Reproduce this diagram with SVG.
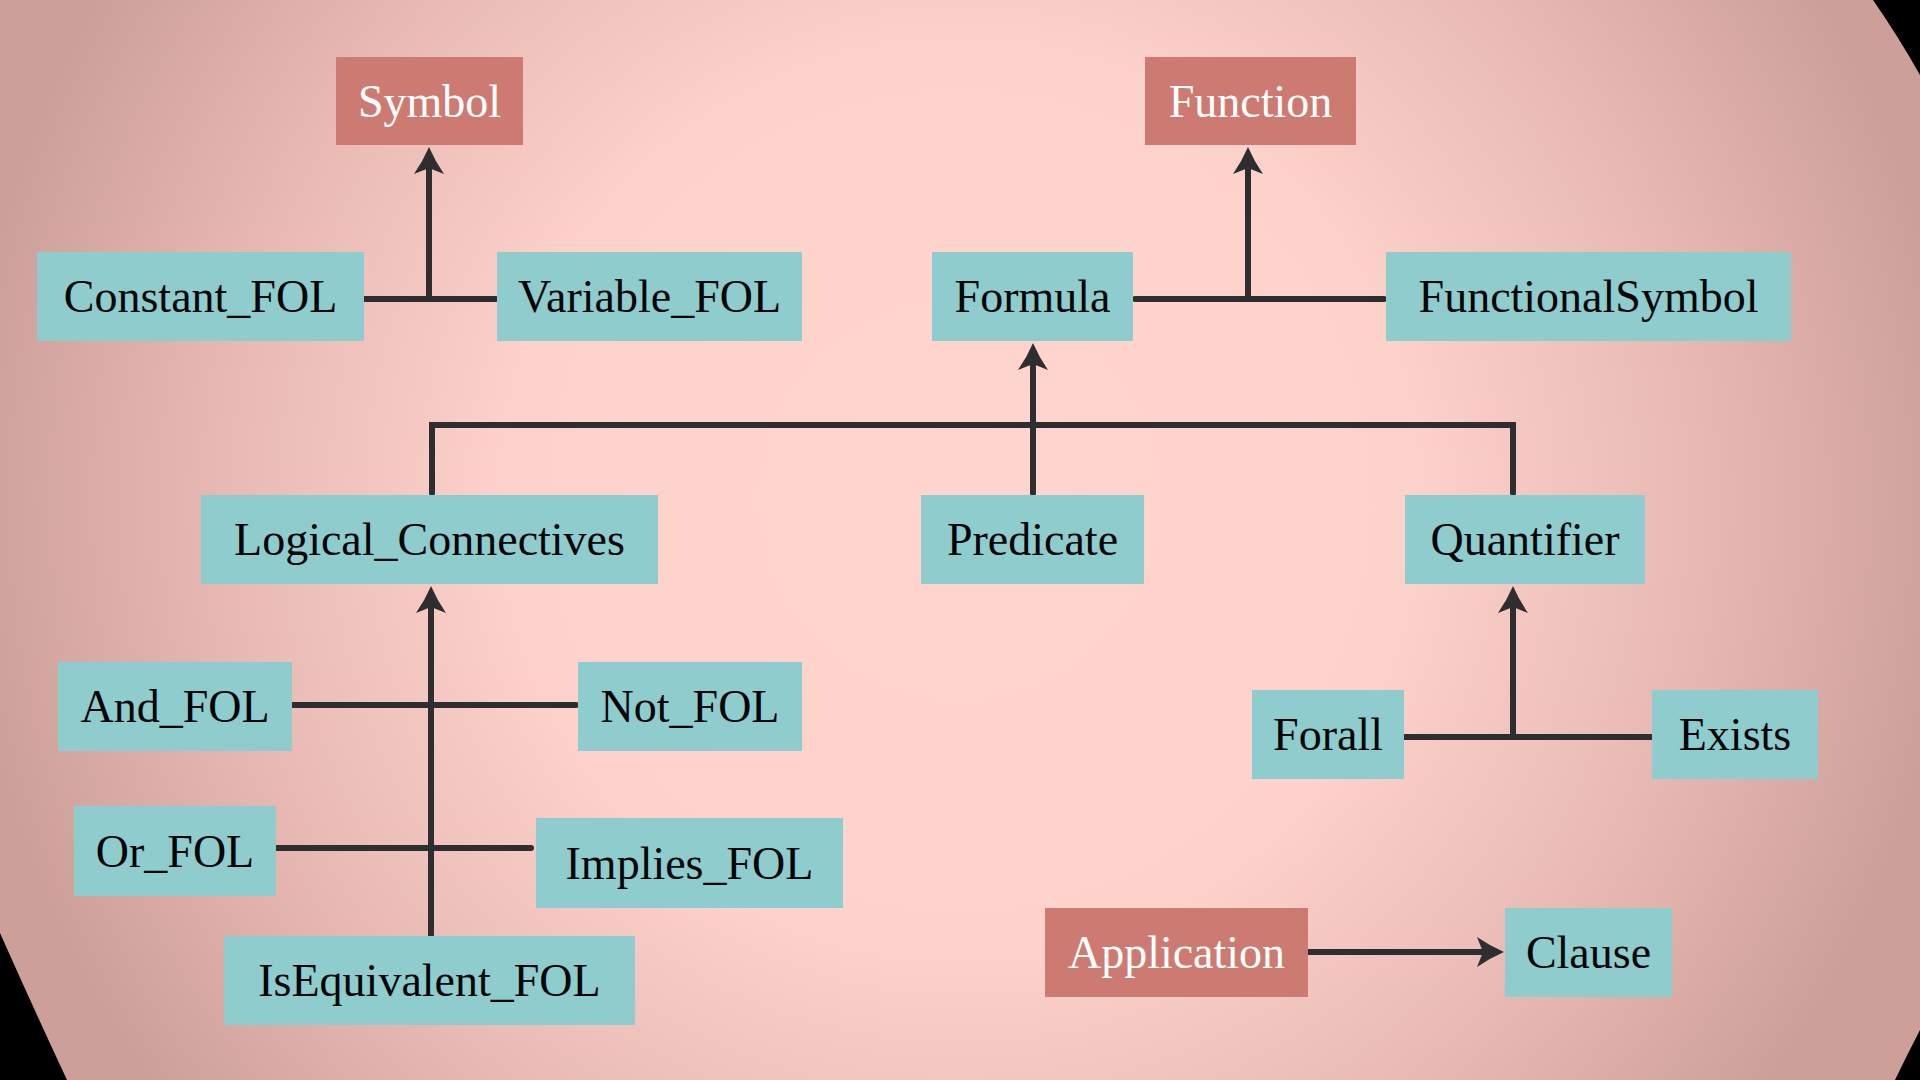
<svg xmlns="http://www.w3.org/2000/svg" width="1920" height="1080" viewBox="0 0 1920 1080">
<style>
.n rect{fill:#8ECCCE}
.r rect{fill:#CD7B72}
text{font-family:"Liberation Serif","DejaVu Serif",serif;font-size:46px;text-anchor:middle;fill:#050505}
.r text{fill:#FFFFFF}
.c path{fill:none;stroke:#2E2E30;stroke-width:6;stroke-linecap:round;stroke-linejoin:miter}
</style>
<defs>
<radialGradient id="bg" gradientUnits="userSpaceOnUse" cx="960" cy="500" r="1000">
<stop offset="0" stop-color="#FFD5CE"/>
<stop offset="0.45" stop-color="#FDD2CB"/>
<stop offset="0.75" stop-color="#E6B8B1"/>
<stop offset="1" stop-color="#CC9F98"/>
</radialGradient>
<marker id="ah" markerUnits="userSpaceOnUse" markerWidth="34" markerHeight="34" refX="5" refY="0" orient="auto" overflow="visible">
<path d="M27,0 Q13,-6 0,-15 L6,0 L0,15 Q13,6 27,0 Z" fill="#2E2E30" stroke="none"/>
</marker>
</defs>
<rect x="0" y="0" width="1920" height="1080" fill="#000"/>
<path d="M0,0 L1873,0 Q1898,36 1920,75 L1920,1030 Q1907,1055 1895,1080 L67,1080 Q32,1005 0,933 Z" fill="url(#bg)"/>

<g id="connectors" class="c">
<path d="M365,299 L496,299"/>
<path d="M429,299 L429,169" marker-end="url(#ah)"/>
<path d="M1135,299 L1384,299"/>
<path d="M1248,299 L1248,169" marker-end="url(#ah)"/>
<path d="M432,493 L432,425 L1513,425 L1513,493"/>
<path d="M1033,493 L1033,365" marker-end="url(#ah)"/>
<path d="M293,705 L576,705"/>
<path d="M276,848 L531,848"/>
<path d="M431,935 L431,608" marker-end="url(#ah)"/>
<path d="M1400,737 L1651,737"/>
<path d="M1513,737 L1513,608" marker-end="url(#ah)"/>
<path d="M1308,952 L1482,952" marker-end="url(#ah)"/>
</g>

<g id="Symbol" class="r"><rect x="336" y="57" width="187" height="88"/><text x="429.5" y="117">Symbol</text></g>
<g id="Function" class="r"><rect x="1145" y="57" width="211" height="88"/><text x="1250.5" y="117">Function</text></g>
<g id="Constant_FOL" class="n"><rect x="37" y="252" width="327" height="89"/><text x="200.5" y="312">Constant_FOL</text></g>
<g id="Variable_FOL" class="n"><rect x="497" y="252" width="305" height="89"/><text x="649.5" y="312">Variable_FOL</text></g>
<g id="Formula" class="n"><rect x="932" y="252" width="201" height="89"/><text x="1032.5" y="312">Formula</text></g>
<g id="FunctionalSymbol" class="n"><rect x="1386" y="252" width="405" height="89"/><text x="1588.5" y="312">FunctionalSymbol</text></g>
<g id="Logical_Connectives" class="n"><rect x="201" y="495" width="457" height="89"/><text x="429.5" y="555">Logical_Connectives</text></g>
<g id="Predicate" class="n"><rect x="921" y="495" width="223" height="89"/><text x="1032.5" y="555">Predicate</text></g>
<g id="Quantifier" class="n"><rect x="1405" y="495" width="240" height="89"/><text x="1525" y="555">Quantifier</text></g>
<g id="And_FOL" class="n"><rect x="58" y="662" width="234" height="89"/><text x="175" y="722">And_FOL</text></g>
<g id="Not_FOL" class="n"><rect x="578" y="662" width="224" height="89"/><text x="690" y="722">Not_FOL</text></g>
<g id="Or_FOL" class="n"><rect x="74" y="806" width="202" height="90"/><text x="175" y="867">Or_FOL</text></g>
<g id="Implies_FOL" class="n"><rect x="536" y="818" width="307" height="90"/><text x="689.5" y="879">Implies_FOL</text></g>
<g id="IsEquivalent_FOL" class="n"><rect x="224" y="936" width="411" height="89"/><text x="429.5" y="996">IsEquivalent_FOL</text></g>
<g id="Forall" class="n"><rect x="1252" y="690" width="152" height="89"/><text x="1328" y="750">Forall</text></g>
<g id="Exists" class="n"><rect x="1652" y="690" width="166" height="89"/><text x="1735" y="750">Exists</text></g>
<g id="Application" class="r"><rect x="1045" y="908" width="263" height="89"/><text x="1176.5" y="968">Application</text></g>
<g id="Clause" class="n"><rect x="1505" y="908" width="167" height="89"/><text x="1588.5" y="968">Clause</text></g>
</svg>
